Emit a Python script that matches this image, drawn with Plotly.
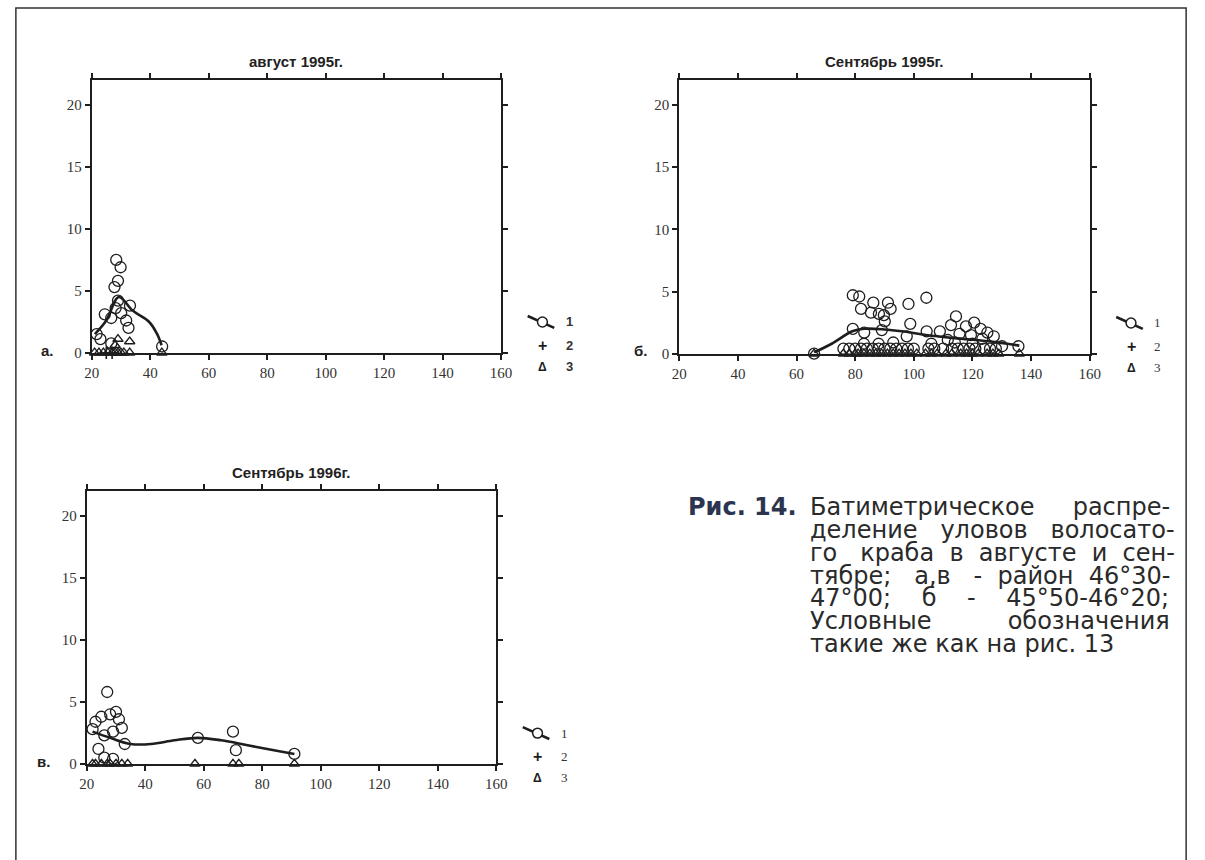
import plotly.graph_objects as go

W, H = 1205, 860

# ---------------- data ----------------
# а. август 1995
a_circ_x = [28.4, 29.9, 29.0, 27.8, 29.0, 33.1, 28.2, 24.5, 26.7, 30.1, 31.8, 32.6, 21.7, 23.0, 26.7, 44.1]
a_circ_y = [7.5, 6.9, 5.8, 5.3, 4.2, 3.8, 3.6, 3.1, 2.8, 3.2, 2.6, 2.0, 1.5, 1.1, 0.75, 0.5]
a_curve_x = [21.1, 25.0, 29.3, 34.0, 39.6, 42.4, 43.9]
a_curve_y = [1.5, 2.6, 4.5, 3.4, 2.5, 1.5, 0.6]
a_plus_x = [25.0, 27.0]
a_plus_y = [0.0, 0.0]
a_tri_x = [21.0, 22.5, 24.0, 25.5, 27.0, 28.0, 29.0, 30.0, 31.0, 33.0, 44.0, 29.0, 33.0, 28.0]
a_tri_y = [0, 0, 0, 0, 0, 0, 0, 0, 0, 0, 0, 1.1, 0.9, 0.6]

# б. сентябрь 1995
b_circ_x = [79.2, 81.4, 82.0, 86.2, 85.4, 88.1, 91.2, 92.1, 89.8, 90.1, 98.2, 98.8, 79.2, 83.1,
            89.1, 97.6, 104.4, 104.3, 114.4, 112.7, 117.8, 120.6, 122.8, 125.1, 127.3, 115.6,
            119.5, 108.9, 111.6, 123.4, 130.1, 135.7,
            66, 76, 78, 80, 82, 84, 86, 88, 90, 92, 94, 96, 98, 100, 105, 107, 110, 113, 115,
            117, 119, 121, 124, 126, 128,
            83, 88, 93, 106, 114, 120]
b_circ_y = [4.7, 4.6, 3.6, 4.1, 3.3, 3.2, 4.1, 3.6, 3.1, 2.6, 4.0, 2.4, 2.0, 1.7,
            1.9, 1.4, 1.8, 4.5, 3.0, 2.3, 2.2, 2.5, 2.0, 1.7, 1.4, 1.6,
            1.5, 1.8, 1.1, 1.2, 0.6, 0.6,
            0.0, 0.4, 0.4, 0.4, 0.4, 0.4, 0.4, 0.4, 0.4, 0.4, 0.4, 0.4, 0.4, 0.4, 0.4, 0.4, 0.4, 0.4, 0.4,
            0.4, 0.4, 0.4, 0.4, 0.4, 0.4,
            0.8, 0.8, 0.9, 0.8, 0.9, 0.8]
b_curve_x = [66, 72, 79, 83, 90, 96, 103, 114, 125.6, 136]
b_curve_y = [0.1, 0.8, 1.8, 2.0, 1.95, 1.8, 1.55, 1.25, 1.0, 0.65]
b_tri_x = [66, 76, 78, 80, 81, 83, 85, 87, 89, 91, 93, 95, 97, 99, 101, 104, 106, 108, 111,
           113, 116, 118, 120, 122, 125, 127, 129, 136]
b_tri_y = [0] * len(b_tri_x)

# в. сентябрь 1996
c_circ_x = [22, 23, 25, 26, 27, 28, 29, 30, 31, 32, 33, 24, 26, 29, 58, 70, 71, 91]
c_circ_y = [2.8, 3.4, 3.8, 2.3, 5.8, 4.0, 2.6, 4.2, 3.6, 2.9, 1.6, 1.2, 0.5, 0.4, 2.1, 2.6, 1.1, 0.8]
c_curve_x = [22, 28, 35, 42, 50, 58, 66, 75, 84, 91]
c_curve_y = [2.6, 2.1, 1.6, 1.6, 1.9, 2.1, 1.9, 1.5, 1.1, 0.8]
c_tri_x = [22, 23, 25, 27, 28, 30, 32, 34, 57, 70, 72, 91]
c_tri_y = [0] * len(c_tri_x)

x_ticks = [20, 40, 60, 80, 100, 120, 140, 160]
y_ticks = [0, 5, 10, 15, 20]
titles = ["август 1995г.", "Сентябрь 1995г.", "Сентябрь 1996г."]
panel_tags = ["а.", "б.", "в."]

caption_head = "Рис. 14."
caption_lines = [
    "Батиметрическое распре-",
    "деление уловов волосато-",
    "го краба в августе и сен-",
    "тябре; а,в - район 46°30-",
    "47°00; б - 45°50-46°20;",
    "Условные обозначения",
    "такие же как на рис. 13",
]

# ---------------- layout helpers ----------------
def px(x):
    return x / W


def py(y):
    return 1 - y / H


def label(x, y, text, family, size, color, xanchor="center"):
    return dict(x=px(x), y=py(y), xref="paper", yref="paper", text=text, showarrow=False,
                xanchor=xanchor, yanchor="middle",
                font=dict(family=family, size=size, color=color))


# approximate advance widths (em) of DejaVu Sans, used to justify caption lines
_ADV = {"а": .613, "б": .617, "в": .59, "г": .52, "д": .64, "е": .615, "ж": .9, "з": .55,
        "и": .66, "к": .61, "л": .66, "м": .77, "н": .66, "о": .612, "п": .66, "р": .635,
        "с": .55, "т": .57, "у": .59, "ч": .62, "ь": .6, "ы": .82, "я": .62, "Б": .68,
        "У": .65, ".": .318, ",": .318, ";": .337, "-": .361, "°": .5}
NBSP_EM = 0.318


def word_width(word, size):
    return sum(_ADV.get(ch, 0.636) for ch in word) * size


def justify(line, size, width):
    """Pad the gaps of a line with no-break spaces so that it spans `width` pixels."""
    words = line.split(" ")
    free = width - sum(word_width(w, size) for w in words)
    n_sp = max(len(words) - 1, int(round(free / (NBSP_EM * size))))
    gaps = len(words) - 1
    out = words[0]
    for j in range(gaps):
        cnt = n_sp // gaps + (1 if j < n_sp % gaps else 0)
        out += "\u00a0" * cnt + words[j + 1]
    return out


# plot boxes in pixels: left, right, top, bottom
boxes = [
    (85, 501, 81, 356),
    (682, 1099, 81, 357),
    (80, 496, 496, 771),
]

INK = "#1e1e1e"
fig = go.Figure()

series = [
    (a_circ_x, a_circ_y, a_curve_x, a_curve_y, a_tri_x, a_tri_y, a_plus_x, a_plus_y),
    (b_circ_x, b_circ_y, b_curve_x, b_curve_y, b_tri_x, b_tri_y, [], []),
    (c_circ_x, c_circ_y, c_curve_x, c_curve_y, c_tri_x, c_tri_y, [], []),
]

layout = {}
for i, ((l, r, t, b), s) in enumerate(zip(boxes, series)):
    n = "" if i == 0 else str(i + 1)
    xa, ya = "x" + n, "y" + n
    cx, cy, lx, ly, tx, ty, qx, qy = s
    fig.add_trace(go.Scatter(x=lx, y=ly, mode="lines", xaxis=xa, yaxis=ya,
                             line=dict(color=INK, width=2.6, shape="spline", smoothing=1.0),
                             cliponaxis=False, showlegend=False, hoverinfo="skip"))
    fig.add_trace(go.Scatter(x=tx, y=ty, mode="markers", xaxis=xa, yaxis=ya,
                             marker=dict(symbol="triangle-up-open", size=9, color=INK,
                                         line=dict(width=1.4, color=INK)),
                             cliponaxis=False, showlegend=False))
    if qx:
        fig.add_trace(go.Scatter(x=qx, y=qy, mode="markers", xaxis=xa, yaxis=ya,
                                 marker=dict(symbol="cross-thin-open", size=9, color=INK,
                                             line=dict(width=1.6, color=INK)),
                                 cliponaxis=False, showlegend=False))
    fig.add_trace(go.Scatter(x=cx, y=cy, mode="markers", xaxis=xa, yaxis=ya,
                             marker=dict(symbol="circle-open", size=11, color=INK,
                                         line=dict(width=1.3, color=INK)),
                             cliponaxis=False, showlegend=False))
    axis_common = dict(showline=True, linewidth=2, linecolor=INK, mirror="allticks",
                       ticks="outside", ticklen=5, tickwidth=1.5, tickcolor=INK,
                       showgrid=False, zeroline=False,
                       tickfont=dict(family="Liberation Serif", size=15, color="#333"))
    layout["xaxis" + n] = dict(axis_common, domain=[px(l), px(r)], range=[20, 160],
                               tickvals=x_ticks, anchor=ya)
    layout["yaxis" + n] = dict(axis_common, domain=[py(b), py(t)], range=[0, 22],
                               tickvals=y_ticks, anchor=xa)

fig.update_layout(**layout)

ann = []
shapes = []
# titles
for (l, r, t, b), ttl in zip(boxes, titles):
    ann.append(label((l + r) / 2, t - 19, "<b>%s</b>" % ttl, "Liberation Sans", 15, "#222"))
# panel tags
tag_pos = [(40, 354), (643, 354), (36, 769)]
for (x, y), tg in zip(tag_pos, panel_tags):
    ann.append(label(x, y, "<b>%s</b>" % tg, "Liberation Sans", 15, "#222"))

# legend keys
legend_spots = [(501, 356, True), (1099, 357, False), (496, 771, False)]
for (rx, by, bold) in legend_spots:
    x0 = rx + 27
    y1 = by - 31
    shapes.append(dict(type="line", xref="paper", yref="paper",
                       x0=px(x0), y0=py(y1 - 6), x1=px(x0 + 27), y1=py(y1 + 6),
                       line=dict(color=INK, width=2.6)))
    shapes.append(dict(type="circle", xref="paper", yref="paper",
                       x0=px(x0 + 10), x1=px(x0 + 20), y0=py(y1 - 5), y1=py(y1 + 5),
                       fillcolor="white", line=dict(color=INK, width=1.5)))
    ann.append(label(x0 + 15, by - 7, "<b>+</b>", "Liberation Sans", 16, INK))
    ann.append(label(x0 + 15, by + 14, "<b>Δ</b>", "Liberation Sans", 12, INK))
    for k, dy in enumerate([-31, -7, 14]):
        lab = str(k + 1)
        if bold:
            ann.append(label(x0 + 42, by + dy, "<b>%s</b>" % lab, "Liberation Sans", 13, "#333"))
        else:
            ann.append(label(x0 + 42, by + dy, lab, "Liberation Serif", 13, "#333"))

# figure caption: justified block of lines
CAP_L, CAP_R, CAP_TOP, CAP_STEP, CAP_SIZE = 813, 1175, 512, 23, 24
CAP_FONT, CAP_INK = "DejaVu Sans", "#2a2a2a"
ann.append(label(804, CAP_TOP, "<b>%s</b>" % caption_head, CAP_FONT, CAP_SIZE, "#2c3550", "right"))
for k, line in enumerate(caption_lines):
    txt = justify(line, CAP_SIZE, CAP_R - CAP_L) if k < len(caption_lines) - 1 else line
    ann.append(label(CAP_L, CAP_TOP + CAP_STEP * k, txt, CAP_FONT, CAP_SIZE, CAP_INK, "left"))

# outer frame
shapes.append(dict(type="path", xref="paper", yref="paper",
                   path="M %f %f L %f %f L %f %f L %f %f" % (px(8), py(870), px(8), py(8),
                                                            px(1197), py(8), px(1197), py(870)),
                   line=dict(color="#333", width=1.5)))

fig.update_layout(width=W, height=H, margin=dict(l=0, r=0, t=0, b=0),
                  paper_bgcolor="white", plot_bgcolor="white",
                  annotations=ann, shapes=shapes, showlegend=False)

fig.write_html("out.html")
